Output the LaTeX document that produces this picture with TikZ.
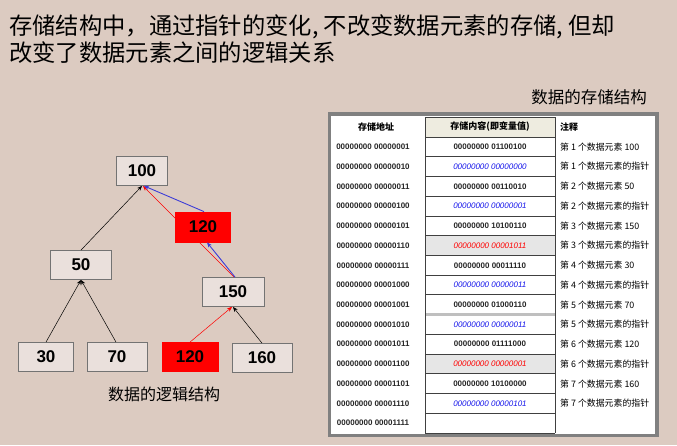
\documentclass[tikz,border=0pt]{standalone}
\usepackage{fontspec}
\setmainfont{Liberation Sans}
\newfontfamily\cjk{Noto Sans CJK SC}
\usetikzlibrary{arrows.meta}
\definecolor{bg}{RGB}{220,203,193}
\definecolor{boxfill}{RGB}{234,224,220}
\definecolor{hdrfill}{RGB}{238,236,224}
\definecolor{cellgray}{RGB}{230,230,230}
\definecolor{ptrblue}{RGB}{20,20,235}
\definecolor{arrblue}{RGB}{60,60,215}
\tikzset{
  treebox/.style={draw=black!55, line width=0.8pt, fill=boxfill, inner sep=0pt,
    minimum height=29pt, font=\fontsize{17}{20}\selectfont\bfseries},
  redbox/.style={treebox, draw=red, fill=red},
  arr/.style={-{Stealth[length=5pt,width=4pt]}, line width=0.5pt},
  addr/.style={font=\fontsize{8}{9}\selectfont\bfseries, text=black!85},
  cellplain/.style={font=\fontsize{8}{9}\selectfont\bfseries, text=black!85},
  cellblue/.style={font=\fontsize{8}{9}\selectfont\itshape, text=ptrblue},
  cellred/.style={font=\fontsize{8}{9}\selectfont\itshape, text=red},
  note/.style={anchor=west, inner sep=0pt, font=\cjk\fontsize{8.9}{11}\selectfont, text=black},
  hdr/.style={font=\cjk\fontsize{9}{11}\selectfont\bfseries},
  rule/.style={draw=black!75, line width=0.8pt}
}
\begin{document}
\begin{tikzpicture}[x=1pt,y=-1pt]
\useasboundingbox (0,0) rectangle (677,445);
\fill[bg] (0,0) rectangle (677,445);

% title
\node[anchor=west, font=\cjk\fontsize{23.3}{27}\selectfont, inner sep=0pt] (t1) at (9,27)
  {存储结构中，通过指针的变化, 不改变数据元素的存储, 但却};
\node[anchor=west, font=\cjk\fontsize{23.3}{27}\selectfont, inner sep=0pt] (t2) at (9,53)
  {改变了数据元素之间的逻辑关系};

% logical structure
\node[treebox, minimum width=51pt] (n100) at (142,171) {100};
\node[treebox, minimum width=61pt] (n50) at (81,265) {50};
\node[treebox, minimum width=62pt] (n150) at (233,292) {150};
\node[treebox, minimum width=55pt] (n30) at (46,357) {30};
\node[treebox, minimum width=60pt] (n70) at (117,357) {70};
\node[redbox, minimum width=56pt] (r2) at (190,357) {120};
\node[treebox, minimum width=60pt] (n160) at (262,358) {160};

\draw[arr, red] ([xshift=1pt]n150.north) -- ([xshift=1pt]n100.south);
\node[redbox, minimum width=55pt, minimum height=30pt] (r1) at (203,227) {120};

\draw[arr] (n30.north) -- (n50.south);
\draw[arr] ([xshift=-1pt]n70.north) -- (n50.south);
\draw[arr] (n50.north) -- (n100.south);
\draw[arr] (n160.north) -- (n150.south);
\draw[arr, red] (r2.north) -- ([xshift=-1pt]n150.south);
\draw[arr, arrblue, line width=0.9pt] ([xshift=2pt]n150.north) -- ([xshift=4pt]r1.south);
\draw[arr, arrblue, line width=0.9pt] ([xshift=1pt]r1.north) -- ([xshift=2pt]n100.south);

\node[font=\cjk\fontsize{16}{19}\selectfont] (cap1) at (164,394) {数据的逻辑结构};

% storage structure
\node[font=\cjk\fontsize{16.5}{19}\selectfont] (cap2) at (589,97) {数据的存储结构};

\draw[draw=black!50, fill=white, line width=3.5pt] (329.5,114) rectangle (657,435.5);
\fill[hdrfill] (425,117) rectangle (555,137);
\fill[cellgray] (425,235.65) rectangle (555,255.38);
\fill[cellgray] (425,354.03) rectangle (555,373.76);
\foreach \k in {0,...,15} {
  \draw[rule] (425,{137+\k*19.73}) -- (555,{137+\k*19.73});
}
\draw[rule] (425,117) -- (555,117);
\draw[draw=black!25, line width=2.5pt] (425,{137+9*19.73}) -- (555,{137+9*19.73});
\draw[rule] (425,117) -- (425,433);
\draw[rule] (555,117) -- (555,433);

\node[hdr] (h1) at (376,127) {存储地址};
\node[hdr] (h2) at (490,127) {存储内容(即变量值)};
\node[hdr, anchor=west, inner sep=0pt] (h3) at (560,127) {注释};

\foreach \i/\a/\m/\s/\n in {
  1/00000001/00000000 01100100/cellplain/第 1 个数据元素 100,
  2/00000010/00000000 00000000/cellblue/第 1 个数据元素的指针,
  3/00000011/00000000 00110010/cellplain/第 2 个数据元素 50,
  4/00000100/00000000 00000001/cellblue/第 2 个数据元素的指针,
  5/00000101/00000000 10100110/cellplain/第 3 个数据元素 150,
  6/00000110/00000000 00001011/cellred/第 3 个数据元素的指针,
  7/00000111/00000000 00011110/cellplain/第 4 个数据元素 30,
  8/00001000/00000000 00000011/cellblue/第 4 个数据元素的指针,
  9/00001001/00000000 01000110/cellplain/第 5 个数据元素 70,
  10/00001010/00000000 00000011/cellblue/第 5 个数据元素的指针,
  11/00001011/00000000 01111000/cellplain/第 6 个数据元素 120,
  12/00001100/00000000 00000001/cellred/第 6 个数据元素的指针,
  13/00001101/00000000 10100000/cellplain/第 7 个数据元素 160,
  14/00001110/00000000 00000101/cellblue/第 7 个数据元素的指针} {
  \node[addr] (a\i) at (373,{137+(\i-0.5)*19.73}) {00000000 \a};
  \node[\s] (m\i) at (490,{137+(\i-0.5)*19.73}) {\m};
  \node[note] (c\i) at (560,{137+(\i-0.5)*19.73}) {\n};
}
\node[addr] (a15) at (373,{137+14.5*19.73}) {00000000 00001111};
\end{tikzpicture}
\end{document}
